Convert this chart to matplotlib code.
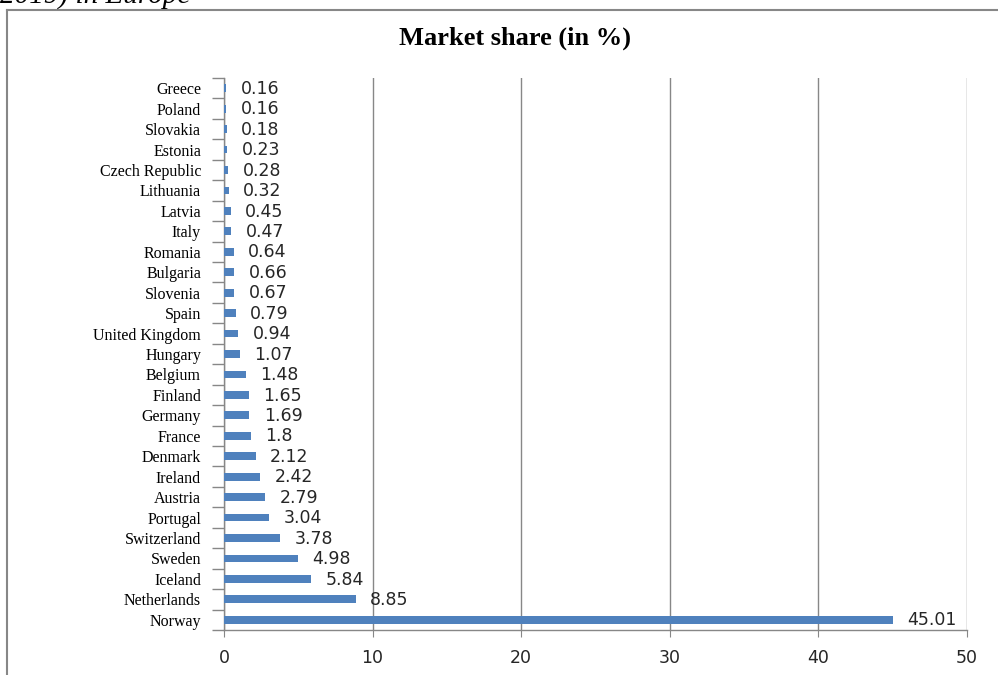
import matplotlib.pyplot as plt
from matplotlib.lines import Line2D
import numpy as np

# countries, bottom (Norway) to top (Greece)
countries = ["Norway", "Netherlands", "Iceland", "Sweden", "Switzerland", "Portugal",
             "Austria", "Ireland", "Denmark", "France", "Germany", "Finland", "Belgium",
             "Hungary", "United Kingdom", "Spain", "Slovenia", "Bulgaria", "Romania",
             "Italy", "Latvia", "Lithuania", "Czech Republic", "Estonia", "Slovakia",
             "Poland", "Greece"]
share = [45.01, 8.85, 5.84, 4.98, 3.78, 3.04, 2.79, 2.42, 2.12, 1.8, 1.69, 1.65, 1.48,
         1.07, 0.94, 0.79, 0.67, 0.66, 0.64, 0.47, 0.45, 0.32, 0.28, 0.23, 0.18, 0.16, 0.16]
value_labels = ["45.01", "8.85", "5.84", "4.98", "3.78", "3.04", "2.79", "2.42", "2.12",
                "1.8", "1.69", "1.65", "1.48", "1.07", "0.94", "0.79", "0.67", "0.66",
                "0.64", "0.47", "0.45", "0.32", "0.28", "0.23", "0.18", "0.16", "0.16"]
xticks = [0, 10, 20, 30, 40, 50]

W, H = 998, 675
fig = plt.figure(figsize=(W / 100, H / 100), dpi=100)
ax = fig.add_axes([224 / W, 1 - 630 / H, (967 - 224) / W, (630 - 78) / H])

grey = "#878787"
y = np.arange(len(countries))
ax.barh(y, share, height=0.38, color="#4F81BD", zorder=3)

for yi, v, lab in zip(y, share, value_labels):
    ax.annotate(lab, (v, yi), xytext=(10.5, -0.5), textcoords="offset points",
                va="center", ha="left", fontsize=12.5, family="DejaVu Sans",
                color="#262626")

ax.set_xlim(0, 50)
ax.set_ylim(-0.5, len(countries) - 0.5)
ax.set_xticks(xticks)
ax.set_xticklabels([str(t) for t in xticks], fontsize=12.5, family="DejaVu Sans",
                   color="#262626")
ax.tick_params(axis="x", length=5, color=grey, pad=9)

ax.set_yticks(y)
ax.set_yticklabels(countries, fontsize=11.5, family="Liberation Serif")
ax.set_yticks(np.arange(-0.5, len(countries), 1), minor=True)
ax.tick_params(axis="y", which="major", length=0, pad=16.5)
ax.tick_params(axis="y", which="minor", length=9, color=grey, width=1)

ax.xaxis.grid(True, color=grey, linewidth=1, zorder=0)
for s in ["top", "right"]:
    ax.spines[s].set_visible(False)
for s in ["left", "bottom"]:
    ax.spines[s].set_color(grey)
    ax.spines[s].set_linewidth(1)

fig.text(515 / W, 1 - 38 / H, "Market share (in %)", ha="center", va="center",
         fontsize=19, fontweight="bold", family="Liberation Serif")

# cut-off caption above the frame
fig.text(0, 1 - 3 / H, "2019) in Europe", ha="left", va="baseline",
         fontsize=21, style="italic", family="Liberation Serif")

# outer chart frame
fig.add_artist(Line2D([7 / W, 7 / W], [0, 1 - 10 / H], color=grey, linewidth=1.5))
fig.add_artist(Line2D([7 / W, 1], [1 - 10 / H, 1 - 10 / H], color=grey, linewidth=1.5))

fig.savefig("out.png", dpi=100)
